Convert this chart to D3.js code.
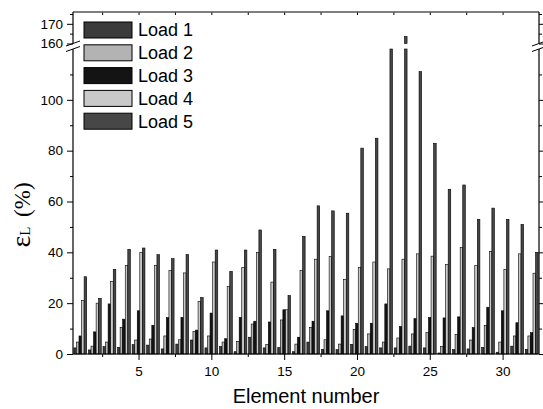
<!DOCTYPE html>
<html>
<head>
<meta charset="utf-8">
<script src="https://cdn.jsdelivr.net/npm/d3@7"></script>
<style>
  body { margin: 0; background: #fff; }
  text { font-family: "Liberation Sans", Arial, sans-serif; }
</style>
</head>
<body>
<div id="chart"></div>
<script>
// element numbers 1..32
var elements = d3.range(1, 33);
var loadNames = ["Load 1", "Load 2", "Load 3", "Load 4", "Load 5"];

// strain values (%) per load
var load1 = [2.4, 1.6, 2.9, 2.6, 3.7, 3.5, 2.0, 3.9, 5.5, 2.4, 2.9, 0.9, 6.6, 2.4, 2.5, 0.9,
             4.7, 1.8, 1.7, 3.8, 2.9, 2.4, 2.4, 3.1, 2.4, 0.4, 1.7, 2.0, 2.6, 0.7, 3.1, 1.8];
var load2 = [4.7, 3.1, 4.7, 10.5, 5.5, 5.9, 7.1, 5.6, 8.9, 7.1, 4.7, 5.0, 11.8, 3.8, 13.4, 3.9,
             10.4, 5.6, 3.9, 9.7, 7.9, 4.7, 6.3, 7.9, 8.4, 2.9, 7.6, 5.5, 11.3, 4.7, 7.1, 7.1];
var load3 = [7.1, 8.7, 19.7, 13.7, 17.0, 11.3, 14.3, 14.4, 9.4, 16.1, 6.0, 14.4, 12.9, 12.6, 17.4, 6.6,
             12.9, 17.0, 15.0, 12.1, 12.1, 19.7, 10.8, 13.9, 14.4, 14.2, 14.6, 10.4, 18.4, 17.0, 12.3, 8.4];
var load4 = [21, 20, 28.6, 34.8, 40, 34.9, 32.8, 31.9, 20.7, 36.2, 26.5, 34.1, 40, 28.3, 17.4, 32.9,
             37.3, 38.3, 29.3, 34.1, 36.2, 33.5, 37.3, 39.4, 38.5, 35.2, 41.9, 34.9, 40.4, 33.3, 39.4, 31.8];
var load5 = [30.4, 21.9, 33.3, 41.2, 41.7, 39.1, 37.5, 39.1, 22.2, 40.9, 32.5, 40.9, 48.8, 41.2, 23, 46.3,
             58.3, 56.3, 55.4, 81, 84.9, 158, 163.5, 111.1, 82.9, 64.8, 66.5, 53, 57.4, 53, 51, 40];
var loads = [load1, load2, load3, load4, load5];

// tick values
var xMajor = [5, 10, 15, 20, 25, 30];
var xMinor = [2.5, 7.5, 12.5, 17.5, 22.5, 27.5];
var yLowMajor = [0, 20, 40, 60, 80, 100];
var yLowMinor = [10, 30, 50, 70, 90, 110];
var yHighMajor = [160, 170];
var yHighMinor = [165, 175];

var colors = ["#3b3b3b", "#b3b3b3", "#141414", "#c9c9c9", "#474747"];

var width = 543, height = 409;
var mLeft = 73, mRight = 539, mTop = 12, mBottom = 354;
var breakLow = 49, breakHigh = 43.5;

var svg = d3.select("#chart").append("svg")
  .attr("width", width)
  .attr("height", height);

// scales: one x, two y pieces for the broken axis
var x = d3.scaleLinear().domain([0.5, 32.5]).range([mLeft, mRight]);
var yLow = d3.scaleLinear().domain([0, 120]).range([mBottom, breakLow]);
var yHigh = d3.scaleLinear().domain([160, 176]).range([breakHigh, mTop]);
var groupW = x(1.44) - x(0.56);
var bx = d3.scaleBand().domain(d3.range(5)).range([-groupW / 2, groupW / 2]);

// flatten into one record per bar
var barData = [];
elements.forEach(function (el, i) {
  loads.forEach(function (arr, k) {
    barData.push({ el: el, load: k, v: arr[i] });
  });
});

var bars = svg.append("g");
// lower piece
bars.selectAll(".low")
  .data(barData)
  .enter().append("rect")
  .attr("class", "low")
  .attr("x", function (d) { return x(d.el) + bx(d.load); })
  .attr("width", bx.bandwidth())
  .attr("y", function (d) { return yLow(Math.min(d.v, 120)); })
  .attr("height", function (d) { return yLow(0) - yLow(Math.min(d.v, 120)); })
  .attr("fill", function (d) { return colors[d.load]; })
  .attr("stroke", "#000")
  .attr("stroke-width", 0.6);
// upper piece for values above the break
bars.selectAll(".high")
  .data(barData.filter(function (d) { return d.v > 160; }))
  .enter().append("rect")
  .attr("class", "high")
  .attr("x", function (d) { return x(d.el) + bx(d.load); })
  .attr("width", bx.bandwidth())
  .attr("y", function (d) { return yHigh(d.v); })
  .attr("height", function (d) { return yHigh(160) - yHigh(d.v); })
  .attr("fill", function (d) { return colors[d.load]; })
  .attr("stroke", "#000")
  .attr("stroke-width", 0.6);

function styleAxis(g, fs) {
  g.selectAll("path").remove();
  g.selectAll("line").attr("stroke", "#000").attr("stroke-width", 1);
  g.selectAll("text").style("font-size", fs).attr("fill", "#000");
}

// bottom axis
svg.append("g").attr("transform", "translate(0," + mBottom + ")")
  .call(d3.axisBottom(x).tickValues(xMajor).tickSize(6).tickPadding(6))
  .call(styleAxis, "13.5px");
svg.append("g").attr("transform", "translate(0," + mBottom + ")")
  .call(d3.axisBottom(x).tickValues(xMinor).tickSize(3).tickFormat(""))
  .call(styleAxis, "13.5px");
// top axis, ticks inward
svg.append("g").attr("transform", "translate(0," + mTop + ")")
  .call(d3.axisBottom(x).tickValues(xMajor.concat(xMinor)).tickSize(3).tickFormat(""))
  .call(styleAxis, "13.5px");

// left axis pieces
[[yLow, yLowMajor, yLowMinor], [yHigh, yHighMajor, yHighMinor]].forEach(function (p) {
  svg.append("g").attr("transform", "translate(" + mLeft + ",0)")
    .call(d3.axisLeft(p[0]).tickValues(p[1]).tickSize(6).tickPadding(4))
    .call(styleAxis, "13.5px");
  svg.append("g").attr("transform", "translate(" + mLeft + ",0)")
    .call(d3.axisLeft(p[0]).tickValues(p[2]).tickSize(3).tickFormat(""))
    .call(styleAxis, "13.5px");
  // right side, inward
  svg.append("g").attr("transform", "translate(" + mRight + ",0)")
    .call(d3.axisLeft(p[0]).tickValues(p[1]).tickSize(-5).tickFormat(""))
    .call(styleAxis, "13.5px");
  svg.append("g").attr("transform", "translate(" + mRight + ",0)")
    .call(d3.axisLeft(p[0]).tickValues(p[2]).tickSize(-3).tickFormat(""))
    .call(styleAxis, "13.5px");
});

// frame lines
var frame = svg.append("g").attr("stroke", "#000").attr("stroke-width", 1.2);
frame.append("line").attr("x1", mLeft).attr("x2", mRight).attr("y1", mBottom).attr("y2", mBottom);
frame.append("line").attr("x1", mLeft).attr("x2", mRight).attr("y1", mTop).attr("y2", mTop)
  .attr("stroke", "#555").attr("stroke-width", 1.5);
[mLeft, mRight].forEach(function (xx) {
  frame.append("line").attr("x1", xx).attr("x2", xx).attr("y1", mTop).attr("y2", breakHigh);
  frame.append("line").attr("x1", xx).attr("x2", xx).attr("y1", breakLow).attr("y2", mBottom);
  // break marks
  [breakHigh, breakLow].forEach(function (yy) {
    frame.append("line")
      .attr("x1", xx - 7).attr("y1", yy + 2.5)
      .attr("x2", xx + 7).attr("y2", yy - 2.5)
      .attr("stroke-width", 1);
  });
});

// legend
var legend = svg.append("g").attr("transform", "translate(84,22)");
var li = legend.selectAll("g")
  .data(loadNames)
  .enter().append("g")
  .attr("transform", function (d, i) { return "translate(0," + (i * 22.8) + ")"; });
li.append("rect")
  .attr("width", 48).attr("height", 16)
  .attr("fill", function (d, i) { return colors[i]; })
  .attr("stroke", "#000").attr("stroke-width", 1);
li.append("text")
  .attr("x", 54).attr("y", 8).attr("dy", "0.36em")
  .style("font-size", "18px")
  .text(function (d) { return d; });

// axis titles
svg.append("text")
  .attr("x", (mLeft + mRight) / 2).attr("y", 403)
  .attr("text-anchor", "middle")
  .style("font-size", "20px")
  .text("Element number");

var yt = svg.append("text")
  .attr("transform", "translate(30,215) rotate(-90)")
  .attr("text-anchor", "middle")
  .style("font-family", "'Liberation Serif', 'Times New Roman', serif")
  .style("font-size", "23px");
yt.append("tspan").style("font-size", "28px").text("ε");
yt.append("tspan").style("font-size", "15px").text("L");
yt.append("tspan").attr("dx", 4).text(" (%)");
</script>
</body>
</html>
